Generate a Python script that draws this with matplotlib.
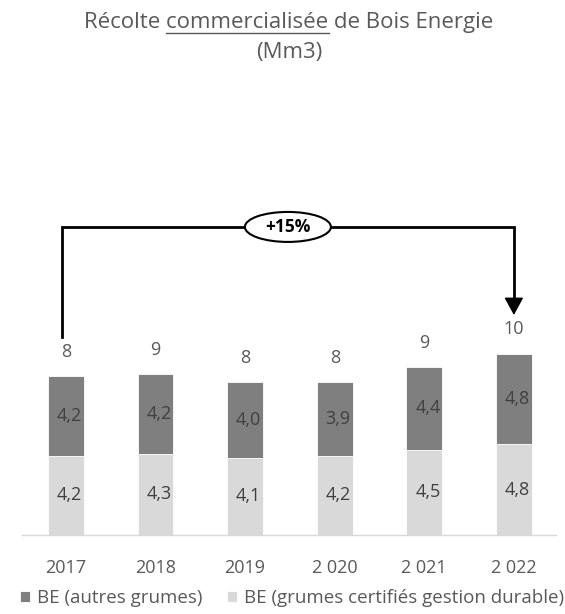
import numpy as np
import matplotlib
matplotlib.use('Agg')
import matplotlib.pyplot as plt
from matplotlib.lines import Line2D
from matplotlib.patches import Ellipse

plt.rcParams['font.family'] = ['Open Sans', 'DejaVu Sans']

years = ['2017', '2018', '2019', '2 020', '2 021', '2 022']
be_certifies = [4.2, 4.3, 4.1, 4.2, 4.5, 4.8]
be_autres = [4.2, 4.2, 4.0, 3.9, 4.4, 4.8]
totals = [8, 9, 8, 8, 9, 10]
growth_label = '+15%'

dark = '#7f7f7f'
light = '#d9d9d9'
txt = '#595959'

W, H = 565, 614
fig = plt.figure(figsize=(W / 100, H / 100), dpi=100)
ax = fig.add_axes([22 / W, 1 - 535 / H, 534 / W, 335 / H])
px_x = 534 / (5.47 + 0.49)   # pixels per x unit
px_y = 18.9                  # pixels per y unit

x = np.arange(len(years))
low = np.array(be_certifies)
high = np.array(be_autres)
ax.bar(x, low, width=0.4, color=light, edgecolor='white', linewidth=0.6,
       label='BE (grumes certifiés gestion durable)')
ax.bar(x, high, width=0.4, bottom=low, color=dark, edgecolor='white', linewidth=0.6,
       label='BE (autres grumes)')

for i in range(len(x)):
    ax.text(x[i] + 0.04, low[i] / 2, f'{low[i]:.1f}'.replace('.', ','), ha='center',
            va='center', fontsize=13, color='#404040')
    ax.text(x[i] + 0.04, low[i] + high[i] / 2, f'{high[i]:.1f}'.replace('.', ','),
            ha='center', va='center', fontsize=13, color='#404040')
    ax.annotate(str(totals[i]), (x[i], low[i] + high[i]), xytext=(0, 11),
                textcoords='offset points', ha='center', va='bottom', fontsize=13, color=txt)

# bracket from first to last year
top = 16.3
tip = 11.64
head = 15 / px_y
xl = x[0] - 4 / px_x
ax.plot([xl, xl, x[-1], x[-1]], [10.5, top, top, tip + head * 0.5], color='black', lw=2,
        solid_joinstyle='miter')
ax.annotate('', xy=(x[-1], tip), xytext=(x[-1], tip + head),
            arrowprops=dict(arrowstyle='-|>,head_length=0.55,head_width=0.3', color='black',
                            lw=1, mutation_scale=20, shrinkA=0, shrinkB=0))
cx = (xl + x[-1]) / 2
ax.add_patch(Ellipse((cx, top), 86 / px_x, 30 / px_y, fc='white', ec='black', lw=1.5,
                     zorder=3))
ax.text(cx, top, growth_label, ha='center', va='center', fontsize=12.5,
        fontweight='bold', color='black', zorder=4)

ax.set_xlim(-0.49, 5.47)
ax.set_ylim(0, 335 / px_y)
ax.set_xticks(x)
ax.set_xticklabels(years, fontsize=13, color=txt)
ax.tick_params(axis='x', length=0, pad=17)
ax.set_yticks([])
for s in ['top', 'right', 'left']:
    ax.spines[s].set_visible(False)
ax.spines['bottom'].set_color('#d9d9d9')
ax.spines['bottom'].set_linewidth(1)

handles, labels = ax.get_legend_handles_labels()
fig.legend(handles[::-1], labels[::-1], loc='center', bbox_to_anchor=(292 / W, 1 - 598 / H),
           ncol=2, frameon=False, fontsize=13.5, handlelength=0.55, handleheight=0.55,
           handletextpad=0.35, columnspacing=1.3, labelcolor=txt, borderaxespad=0,
           borderpad=0)

# title with one underlined word
t1 = 'Récolte '
t2 = 'commercialisée'
t3 = ' de Bois Energie'
tx, ty = 289 / W, 1 - 28 / H
title = fig.text(tx, ty, t1 + t2 + t3, ha='center', va='baseline', fontsize=16, color=txt)
fig.text(tx, 1 - 58 / H, '(Mm3)', ha='center', va='baseline', fontsize=16, color=txt)
fig.canvas.draw()
r = fig.canvas.get_renderer()
full = title.get_window_extent(r)
probe = fig.text(0, 0, t1, fontsize=16)
w1 = probe.get_window_extent(r).width
probe.set_text(t1 + t2)
w12 = probe.get_window_extent(r).width
probe.remove()
uy = ty - 5 / H
fig.add_artist(Line2D([(full.x0 + w1) / W, (full.x0 + w12) / W], [uy, uy], color=txt, lw=1))

fig.savefig('out.png', dpi=100)
